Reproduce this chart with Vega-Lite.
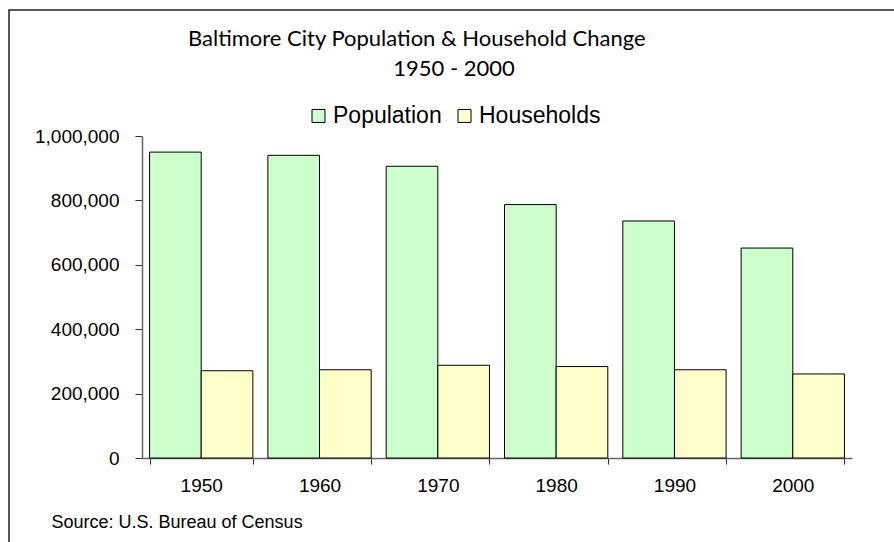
{
  "$schema": "https://vega.github.io/schema/vega-lite/v6.json",
  "width": 900,
  "height": 540,
  "autosize": {"type": "none"},
  "padding": {"left": 9, "top": 10, "right": 0, "bottom": 0},
  "background": "white",
  "config": {
    "view": {"stroke": "#222", "strokeWidth": 1.5},
    "font": "Liberation Sans"
  },
  "title": {
    "text": "Baltimore City Population & Household Change",
    "font": "Lato",
    "fontSize": 22,
    "fontWeight": "normal",
    "color": "black",
    "anchor": "start",
    "frame": "group",
    "dx": 179,
    "dy": 21,
    "offset": -36.5,
    "baseline": "alphabetic"
  },
  "data": {
    "values": [
      {"year": "1950", "series": "Population", "value": 950000},
      {"year": "1950", "series": "Households", "value": 271000},
      {"year": "1960", "series": "Population", "value": 940000},
      {"year": "1960", "series": "Households", "value": 274000},
      {"year": "1970", "series": "Population", "value": 906000},
      {"year": "1970", "series": "Households", "value": 288000},
      {"year": "1980", "series": "Population", "value": 787000},
      {"year": "1980", "series": "Households", "value": 284000},
      {"year": "1990", "series": "Population", "value": 736000},
      {"year": "1990", "series": "Households", "value": 274000},
      {"year": "2000", "series": "Population", "value": 652000},
      {"year": "2000", "series": "Households", "value": 261000}
    ]
  },
  "mark": {"type": "bar", "stroke": "black", "strokeWidth": 1},
  "encoding": {
    "x": {
      "field": "year",
      "type": "nominal",
      "scale": {"range": [133, 843], "paddingInner": 0.127, "paddingOuter": 0.064},
      "axis": {
        "title": "Source: U.S. Bureau of Census",
        "titleFont": "Liberation Sans",
        "titleFontSize": 18,
        "titleFontWeight": "normal",
        "titleColor": "black",
        "titleX": 42,
        "titleY": 69.7,
        "titleAlign": "left",
        "titleBaseline": "alphabetic",
        "offset": -92,
        "labelAngle": 0,
        "labelFontSize": 19,
        "labelColor": "black",
        "labelPadding": 12,
        "tickBand": "extent",
        "tickSize": 6,
        "domainColor": "#666",
        "domainWidth": 1.5,
        "tickColor": "#333",
        "grid": false
      }
    },
    "xOffset": {"field": "series", "type": "nominal", "sort": ["Population", "Households"]},
    "y": {
      "field": "value",
      "type": "quantitative",
      "scale": {"domain": [0, 1000000], "range": [448, 126], "nice": false},
      "axis": {
        "title": null,
        "offset": -133,
        "values": [0, 200000, 400000, 600000, 800000, 1000000],
        "format": ",d",
        "labelFontSize": 19,
        "labelColor": "black",
        "labelPadding": 16,
        "tickSize": 7,
        "domainColor": "#666",
        "domainWidth": 1.5,
        "tickColor": "#333",
        "grid": false
      }
    },
    "color": {
      "field": "series",
      "type": "nominal",
      "scale": {"domain": ["Population", "Households"], "range": ["#CCFFCC", "#FFFFCC"]},
      "legend": {
        "orient": "none",
        "legendX": 298,
        "legendY": 48.6,
        "direction": "horizontal",
        "title": "1950 - 2000",
        "titleFont": "Lato",
        "titleFontSize": 22,
        "titleFontWeight": "normal",
        "titleColor": "black",
        "titleAnchor": "middle",
        "titlePadding": 23.6,
        "labelFont": "Liberation Sans",
        "labelFontSize": 23,
        "labelColor": "black",
        "labelOffset": 3,
        "labelLimit": 300,
        "symbolType": "square",
        "symbolSize": 169,
        "symbolStrokeColor": "black",
        "symbolStrokeWidth": 1,
        "columnPadding": 11,
        "padding": 0
      }
    }
  }
}
